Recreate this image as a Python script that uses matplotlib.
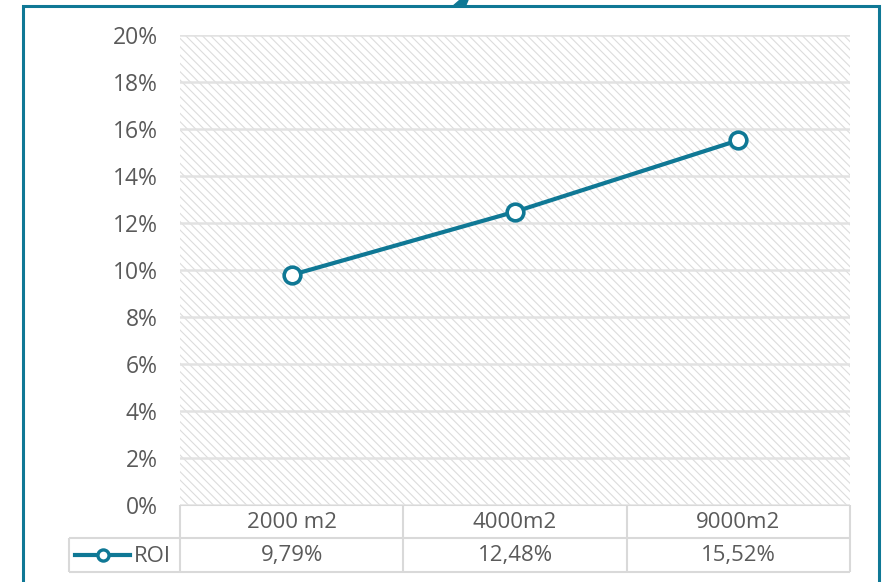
import matplotlib
matplotlib.use("Agg")
import matplotlib.pyplot as plt
from matplotlib.patches import Rectangle, Polygon
from matplotlib.lines import Line2D

categories = ["2000 m2", "4000m2", "9000m2"]
roi_values = [9.79, 12.48, 15.52]
roi_labels = ["9,79%", "12,48%", "15,52%"]
series_name = "ROI"
y_ticks = [0, 2, 4, 6, 8, 10, 12, 14, 16, 18, 20]

TEAL = "#0f7895"
TEXT = "#5a5a5a"
GRID = "#e2e2e2"
TABLE = "#d9d9d9"
HATCH = "#dcdcdc"

plt.rcParams["font.family"] = ["Open Sans", "DejaVu Sans"]
plt.rcParams["hatch.linewidth"] = 0.8
plt.rcParams["hatch.color"] = HATCH

W, H = 884, 582
fig = plt.figure(figsize=(W / 100, H / 100), dpi=100)

# outer frame with a small pointer on the top edge
frame = fig.add_axes([0, 0, 1, 1])
frame.set_xlim(0, W)
frame.set_ylim(H, 0)
frame.axis("off")
frame.plot([23, 23, 879, 879], [H + 5, 6, 6, H + 5], color=TEAL, lw=2.2,
           solid_joinstyle="miter")
frame.add_patch(Polygon([[452, 7], [460, 0], [468, 0], [465, 7]],
                        closed=True, color=TEAL))

px0, px1, py0, py1 = 180, 850, 35, 505
ax = fig.add_axes([px0 / W, (H - py1) / H, (px1 - px0) / W, (py1 - py0) / H])
ax.set_xlim(-0.5, len(categories) - 0.5)
ax.set_ylim(0, 20)

ax.add_patch(Rectangle((0, 0), 1, 1, transform=ax.transAxes, facecolor="white",
                       hatch="\\\\\\\\", edgecolor=HATCH, lw=0, zorder=0))
for t in y_ticks:
    ax.axhline(t, color=GRID, lw=1.8, zorder=1)

x = list(range(len(categories)))
ax.plot(x, roi_values, color=TEAL, lw=3, marker="o", markersize=12,
        markerfacecolor="white", markeredgecolor=TEAL, markeredgewidth=2.6,
        zorder=3)

ax.set_yticks(y_ticks)
ax.set_yticklabels([f"{t}%" for t in y_ticks], fontsize=16.5, color=TEXT)
ax.tick_params(axis="y", length=0, pad=16)
ax.set_xticks([])
for s in ax.spines.values():
    s.set_visible(False)

# data table under the plot area, drawn in frame pixel coordinates
r0, r1, r2 = 505, 538, 572
lx = 69
col_edges = [px0 + (px1 - px0) * i / len(categories) for i in range(len(categories) + 1)]
kw = dict(color=TABLE, lw=1.5, solid_capstyle="butt")
frame.plot([px0, px1], [r0, r0], **kw)
frame.plot([lx, px1], [r1, r1], **kw)
frame.plot([lx, px1], [r2, r2], **kw)
frame.plot([lx, lx], [r1, r2], **kw)
for ce in col_edges:
    frame.plot([ce, ce], [r0, r2], **kw)

for i, (c, lab) in enumerate(zip(categories, roi_labels)):
    cx = (col_edges[i] + col_edges[i + 1]) / 2
    frame.text(cx, (r0 + r1) / 2 + 1, c, ha="center", va="center",
               fontsize=16, color=TEXT)
    frame.text(cx, (r1 + r2) / 2 + 1, lab, ha="center", va="center",
               fontsize=16, color=TEXT)

frame.add_line(Line2D([75, 130], [555, 555], color=TEAL, lw=3))
frame.plot([103], [555], marker="o", markersize=8, markerfacecolor="white",
           markeredgecolor=TEAL, markeredgewidth=2.4)
frame.text(134, 556, series_name, ha="left", va="center", fontsize=16, color=TEXT)

fig.savefig("out.png", dpi=100)
